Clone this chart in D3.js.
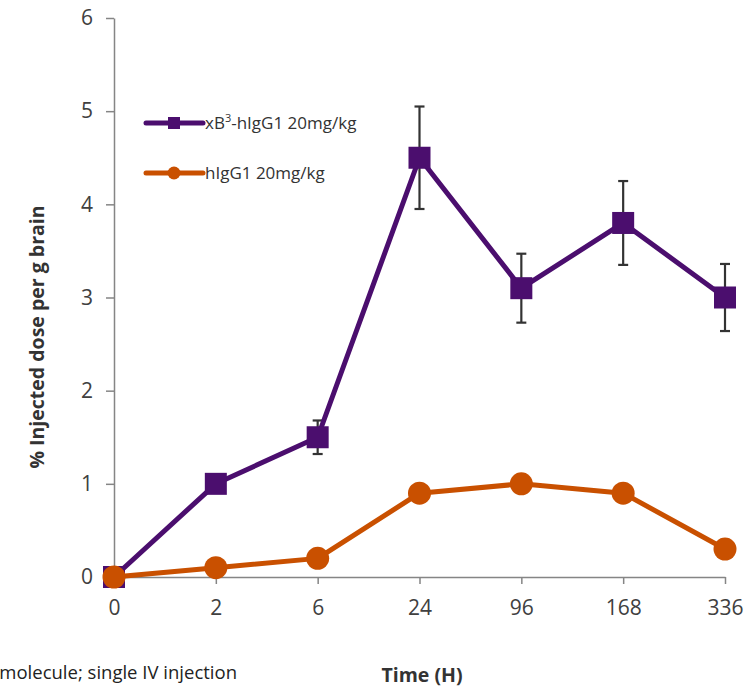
<!DOCTYPE html>
<html>
<head>
<meta charset="utf-8">
<script src="https://cdn.jsdelivr.net/npm/d3@7"></script>
<style>
  body { margin: 0; background: #fff; }
  svg { display: block; font-family: "Open Sans", "Noto Sans", sans-serif; }
  .tick text { font-size: 21px; font-family: "Open Sans", sans-serif; fill: #404040; }
</style>
</head>
<body>
<svg id="chart" width="753" height="689"></svg>
<script>
const timepoints = ["0", "2", "6", "24", "96", "168", "336"];
const xb3Values = [0, 1.0, 1.5, 4.5, 3.1, 3.8, 3.0];
const xb3Errors = [0, 0.08, 0.18, 0.55, 0.37, 0.45, 0.36];
const higgValues = [0, 0.1, 0.2, 0.9, 1.0, 0.9, 0.3];
const yTicks = [0, 1, 2, 3, 4, 5, 6];

const purple = "#4b0e6e";
const orange = "#c95000";

const width = 753;
const height = 689;
const margin = { top: 18, right: 28, bottom: 112, left: 114 };

const svg = d3.select("#chart");

// scales
const x = d3
  .scalePoint()
  .domain(timepoints)
  .range([margin.left, width - margin.right]);

const y = d3
  .scaleLinear()
  .domain([0, 6])
  .range([height - margin.bottom, margin.top]);

// axes
const xAxis = d3.axisBottom(x).tickSize(7).tickSizeOuter(0).tickPadding(16);
const yAxis = d3
  .axisLeft(y)
  .tickValues(yTicks)
  .tickFormat(d3.format("d"))
  .tickSize(8)
  .tickSizeOuter(0)
  .tickPadding(13);

const gx = svg
  .append("g")
  .attr("transform", `translate(0, ${height - margin.bottom})`)
  .call(xAxis);

const gy = svg
  .append("g")
  .attr("transform", `translate(${margin.left}, 0)`)
  .call(yAxis);

[gx, gy].forEach((g) => {
  g.select(".domain").attr("stroke", "#858585").attr("stroke-width", 1.5);
  g.selectAll(".tick line").attr("stroke", "#858585").attr("stroke-width", 1.5);
});

// axis titles
svg
  .append("text")
  .attr("transform", `translate(44, 337) rotate(-90)`)
  .attr("text-anchor", "middle")
  .attr("font-weight", "bold")
  .attr("font-size", "19.5px")
  .attr("fill", "#333")
  .text("% Injected dose per g brain");

svg
  .append("text")
  .attr("x", 422)
  .attr("y", 682)
  .attr("text-anchor", "middle")
  .attr("font-weight", "bold")
  .attr("font-size", "19.5px")
  .attr("fill", "#333")
  .text("Time (H)");

svg
  .append("text")
  .attr("x", 237)
  .attr("y", 679)
  .attr("text-anchor", "end")
  .attr("font-size", "18.5px")
  .attr("fill", "#222")
  .text("molecule; single IV injection");

const line = d3
  .line()
  .x((d, i) => x(timepoints[i]))
  .y((d) => y(d));

// error bars for xB3 series
const errG = svg.append("g").attr("stroke", "#333").attr("stroke-width", 2.2);
xb3Values.forEach((v, i) => {
  const e = xb3Errors[i];
  if (!e) return;
  const cx = x(timepoints[i]);
  errG.append("line").attr("x1", cx).attr("x2", cx).attr("y1", y(v + e)).attr("y2", y(v - e));
  errG.append("line").attr("x1", cx - 5).attr("x2", cx + 5).attr("y1", y(v + e)).attr("y2", y(v + e));
  errG.append("line").attr("x1", cx - 5).attr("x2", cx + 5).attr("y1", y(v - e)).attr("y2", y(v - e));
});

// xB3 line + squares
svg
  .append("path")
  .datum(xb3Values)
  .attr("fill", "none")
  .attr("stroke", purple)
  .attr("stroke-width", 5)
  .attr("stroke-linejoin", "round")
  .attr("d", line);

svg
  .append("g")
  .selectAll("rect")
  .data(xb3Values)
  .enter()
  .append("rect")
  .attr("x", (d, i) => x(timepoints[i]) - 11)
  .attr("y", (d) => y(d) - 11)
  .attr("width", 22)
  .attr("height", 22)
  .attr("fill", purple);

// hIgG1 line + circles
svg
  .append("path")
  .datum(higgValues)
  .attr("fill", "none")
  .attr("stroke", orange)
  .attr("stroke-width", 5)
  .attr("stroke-linejoin", "round")
  .attr("d", line);

svg
  .append("g")
  .selectAll("circle")
  .data(higgValues)
  .enter()
  .append("circle")
  .attr("cx", (d, i) => x(timepoints[i]))
  .attr("cy", (d) => y(d))
  .attr("r", 11.5)
  .attr("fill", orange);

// legend
const legend = svg.append("g");

const lg1 = legend.append("g").attr("transform", "translate(146, 123)");
lg1.append("line").attr("x1", 0).attr("x2", 57).attr("stroke", purple).attr("stroke-width", 5).attr("stroke-linecap", "round");
lg1.append("rect").attr("x", 22).attr("y", -6).attr("width", 12).attr("height", 12).attr("fill", purple);
const t1 = lg1
  .append("text")
  .attr("x", 59)
  .attr("y", 6)
  .attr("font-size", "17px")
  .attr("fill", "#333");
t1.append("tspan").text("xB");
t1.append("tspan").attr("dy", -7).attr("font-size", "11px").text("3");
t1.append("tspan").attr("dy", 7).text("-hIgG1 20mg/kg");

const lg2 = legend.append("g").attr("transform", "translate(146, 173)");
lg2.append("line").attr("x1", 0).attr("x2", 57).attr("stroke", orange).attr("stroke-width", 5).attr("stroke-linecap", "round");
lg2.append("circle").attr("cx", 28).attr("cy", 0).attr("r", 6.5).attr("fill", orange);
lg2
  .append("text")
  .attr("x", 59)
  .attr("y", 6)
  .attr("font-size", "17px")
  .attr("fill", "#333")
  .text("hIgG1 20mg/kg");
</script>
</body>
</html>
